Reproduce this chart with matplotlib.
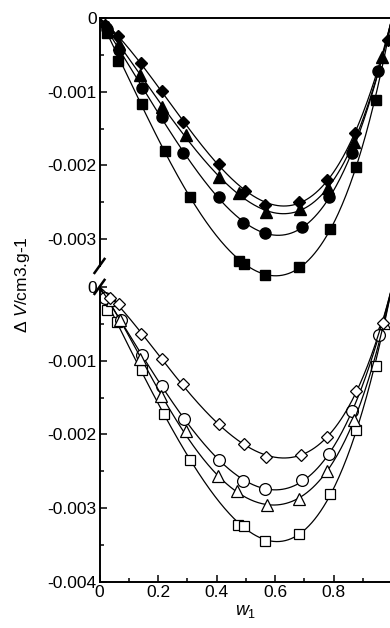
import numpy as np
import matplotlib
matplotlib.use('Agg')
import matplotlib.pyplot as plt
import matplotlib.transforms as mtransforms

plt.rcParams['font.family'] = ['Liberation Sans', 'DejaVu Sans']
plt.rcParams['mathtext.fontset'] = 'custom'
plt.rcParams['mathtext.rm'] = 'Liberation Sans'
plt.rcParams['mathtext.it'] = 'Liberation Sans:italic'

# 上半部分 (实心符号), 单位 0.001 cm3/g
w_top_sq = [0.027, 0.062, 0.146, 0.224, 0.310, 0.477, 0.495, 0.566, 0.683, 0.788, 0.876, 0.944]
v_top_sq = [-0.21, -0.58, -1.17, -1.80, -2.43, -3.30, -3.34, -3.48, -3.37, -2.865, -2.02, -1.11]
w_top_ci = [0.025, 0.068, 0.144, 0.215, 0.286, 0.408, 0.492, 0.566, 0.691, 0.785, 0.864, 0.953]
v_top_ci = [-0.15, -0.43, -0.95, -1.34, -1.835, -2.43, -2.775, -2.92, -2.84, -2.43, -1.835, -0.72]
w_top_tr = [0.030, 0.066, 0.138, 0.213, 0.295, 0.408, 0.478, 0.568, 0.685, 0.782, 0.870, 0.966]
v_top_tr = [-0.12, -0.36, -0.77, -1.21, -1.59, -2.16, -2.38, -2.63, -2.59, -2.31, -1.68, -0.525]
w_top_di = [0.020, 0.064, 0.141, 0.213, 0.284, 0.410, 0.497, 0.567, 0.682, 0.777, 0.873, 0.985]
v_top_di = [-0.10, -0.25, -0.615, -0.986, -1.406, -1.98, -2.34, -2.53, -2.50, -2.20, -1.555, -0.30]

# 下半部分 (空心符号)
w_bot_sq = [0.025, 0.059, 0.144, 0.221, 0.309, 0.475, 0.495, 0.566, 0.683, 0.788, 0.877, 0.944]
v_bot_sq = [-0.31, -0.47, -1.125, -1.72, -2.344, -3.225, -3.24, -3.44, -3.35, -2.81, -1.94, -1.07]
w_bot_tr = [0.042, 0.070, 0.138, 0.209, 0.295, 0.404, 0.471, 0.572, 0.683, 0.777, 0.870, 0.973]
v_bot_tr = [-0.18, -0.45, -0.98, -1.48, -1.96, -2.57, -2.77, -2.95, -2.88, -2.49, -1.80, -0.49]
w_bot_ci = [0.019, 0.072, 0.144, 0.215, 0.289, 0.410, 0.492, 0.566, 0.691, 0.785, 0.864, 0.956]
v_bot_ci = [-0.15, -0.45, -0.92, -1.35, -1.79, -2.34, -2.63, -2.74, -2.62, -2.27, -1.68, -0.65]
w_bot_di = [0.036, 0.067, 0.141, 0.213, 0.284, 0.409, 0.494, 0.568, 0.689, 0.777, 0.877, 0.970]
v_bot_di = [-0.15, -0.23, -0.64, -0.98, -1.32, -1.86, -2.13, -2.30, -2.28, -2.03, -1.41, -0.49]

# 上半部分整体上移的量 (断轴)
offset = 0.003646


# Redlich-Kister 拟合, 画平滑曲线
def rk_fit(w, v, n=4):
    w = np.asarray(w)
    v = np.asarray(v) * 1e-3
    A = np.column_stack([w * (1 - w) * (2 * w - 1) ** k for k in range(n)])
    coef = np.linalg.lstsq(A, v, rcond=None)[0]
    ws = np.linspace(0, 1, 300)
    As = np.column_stack([ws * (1 - ws) * (2 * ws - 1) ** k for k in range(n)])
    return ws, As @ coef


fig = plt.figure(figsize=(3.9, 6.28), dpi=100)
ax = fig.add_axes([99.5 / 390, 46 / 628, 292.5 / 390, 564.1 / 628])

top_sets = [(w_top_sq, v_top_sq, 's', 7.5), (w_top_ci, v_top_ci, 'o', 8),
            (w_top_tr, v_top_tr, '^', 8), (w_top_di, v_top_di, 'D', 6.5)]
bot_sets = [(w_bot_sq, v_bot_sq, 's', 7.5), (w_bot_ci, v_bot_ci, 'o', 8.5),
            (w_bot_tr, v_bot_tr, '^', 8.5), (w_bot_di, v_bot_di, 'D', 6.5)]

for w, v, m, ms in top_sets:
    ws, vs = rk_fit(w, v)
    ax.plot(ws, vs + offset, color='black', lw=0.9)
    ax.plot(w, np.array(v) * 1e-3 + offset, ls='none', marker=m, ms=ms,
            mfc='black', mec='black')

for w, v, m, ms in bot_sets:
    ws, vs = rk_fit(w, v)
    ax.plot(ws, vs, color='black', lw=0.9)
    ax.plot(w, np.array(v) * 1e-3, ls='none', marker=m, ms=ms,
            mfc='white', mec='black', mew=0.9)

ax.set_xlim(0, 1)
ax.set_ylim(-0.004, offset)

# 坐标轴刻度
ax.set_xticks([0, 0.2, 0.4, 0.6, 0.8], ['0', '0.2', '0.4', '0.6', '0.8'])
ax.set_xticks([0.1, 0.3, 0.5, 0.7, 0.9], minor=True)
bot_major = [0, -0.001, -0.002, -0.003, -0.004]
top_major = [-0.001, -0.002, -0.003]
ypos = bot_major + [offset + t for t in top_major] + [offset]
ylab = ['0', '-0.001', '-0.002', '-0.003', '-0.004', '-0.001', '-0.002', '-0.003', '0']
ax.set_yticks(ypos, ylab)
yminor = [-0.0005, -0.0015, -0.0025, -0.0035] + [offset - 0.0005, offset - 0.0015, offset - 0.0025]
ax.set_yticks(yminor, minor=True)
ax.tick_params(which='both', direction='in', labelsize=12.5, width=1.1, pad=2)
ax.tick_params(which='major', length=5)
ax.tick_params(which='minor', length=3)

for s in ['top', 'bottom', 'right']:
    ax.spines[s].set_linewidth(1.4)
ax.spines['left'].set_visible(False)

# 左侧断轴
trans = mtransforms.blended_transform_factory(ax.transAxes, ax.transData)
gap_top = offset - 0.003362
ax.plot([0, 0], [gap_top, offset], transform=trans, color='black', lw=1.4, clip_on=False)
ax.plot([0, 0], [-0.004, 0], transform=trans, color='black', lw=1.4, clip_on=False)
dx = 5 / 292.5
dy = 7 / 73.78 * 1e-3
for yb in [gap_top, 0]:
    ax.plot([-dx, dx], [yb - dy, yb + dy], transform=trans, color='black', lw=1.8, clip_on=False)

ax.set_xlabel(r'$w_1$', fontsize=13, labelpad=2)
ax.set_ylabel(r'$\Delta$ $V$/cm3.g-1', fontsize=12.5, labelpad=2)
ax.yaxis.set_label_coords(-0.232, 0.528)

fig.savefig('out.png', dpi=100)
